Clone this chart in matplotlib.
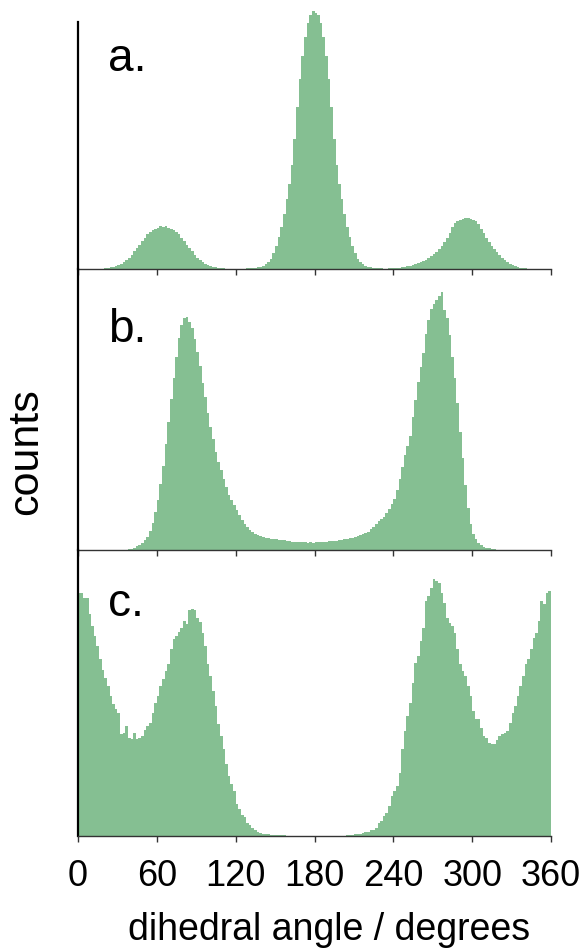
import numpy as np
import matplotlib
matplotlib.use('Agg')
import matplotlib.pyplot as plt

plt.rcParams['font.family'] = ['Liberation Sans', 'DejaVu Sans']

# histogram of dihedral angles, 2 degree bins from 0 to 360 (counts)
bin_edges = np.arange(0, 362, 2)

counts_a = [
    0, 0, 0, 0, 0, 0, 0, 0, 0, 0.5,
    0.8, 1.1, 1.6, 2.2, 3, 4, 5.5, 7.2, 9, 11.5,
    14.5, 18, 21, 24.5, 28, 31, 35, 37.5, 39, 40.5,
    41.5, 43, 42, 43, 41.5, 40.5, 39, 37.5, 35, 31,
    28, 24.5, 21, 18, 14.5, 11.5, 9, 7.2, 5.5, 4,
    3, 2.2, 1.6, 1.1, 0.8, 0.6, 0.5, 0.5, 0.4, 0.4,
    0.4, 0.4, 0.5, 0.5, 0.6, 0.7, 0.9, 1.2, 1.6, 2.3,
    3.3, 5, 7, 10.5, 16, 23, 32, 42, 55, 70,
    85, 104, 130, 162, 190, 213, 232, 246, 254, 258,
    256, 254, 246, 232, 213, 190, 162, 130, 104, 85,
    70, 55, 42, 32, 23, 16, 10.5, 7, 5, 3.3,
    2.3, 1.6, 1.2, 0.9, 0.7, 0.6, 0.5, 0.5, 0.6, 0.7,
    0.8, 1, 1.3, 1.7, 2.1, 2.7, 3.4, 4.2, 5, 6,
    7, 8.2, 9.5, 11, 13, 15, 17.5, 20.5, 23.5, 27,
    31, 36, 42, 46, 48, 49.5, 50.5, 51, 51, 50.5,
    49.5, 48, 45, 40, 36, 31, 27, 23.5, 20.5, 17,
    14, 11.5, 9, 7.2, 5.5, 4, 2.8, 2, 1.4, 1,
    0.6, 0.4, 0.2, 0, 0, 0, 0, 0, 0, 0,
]

counts_b = [
    0, 0, 0, 0, 0, 0, 0, 0, 0, 0,
    0, 0, 0, 0, 0, 0, 0, 0, 0.4, 0.8,
    1.5, 2.5, 3.8, 5.5, 7.5, 10, 13.5, 19, 27, 38,
    50, 66, 84, 106, 128, 151, 172, 193, 212, 225,
    232, 233, 228, 222, 211, 198, 184, 167, 153, 137,
    123, 111, 98, 88, 80, 71, 63, 55, 50, 45,
    40, 35, 30, 26, 23, 20.5, 18.5, 16.5, 15, 14,
    13.2, 12.5, 12, 11.5, 11.2, 11, 10.5, 10, 9.8, 9.5,
    9, 8.5, 8.5, 8, 8, 7.7, 7.8, 7.5, 7.7, 7.4,
    8, 7.6, 8, 8.4, 8.2, 8.8, 9, 9.4, 9.2, 10,
    10.4, 10.8, 11, 11.6, 12.3, 13, 14, 15, 16, 17,
    18.5, 21, 23.5, 26, 29, 31, 33, 37, 41, 46,
    51, 60, 71, 83, 95, 104, 114, 133, 150, 168,
    183, 197, 216, 230, 241, 246, 250, 254, 258, 240,
    232, 215, 193, 172, 147, 118, 92, 65, 42, 26,
    16, 11, 7.5, 5, 3.5, 2.5, 1.8, 1.2, 0.8, 0.5,
    0.3, 0.2, 0, 0, 0, 0, 0, 0, 0, 0,
    0, 0, 0, 0, 0, 0, 0, 0, 0, 0,
]

counts_c = [
    243, 243, 238, 238, 222, 210, 200, 190, 177, 166,
    158, 150, 140, 132, 127, 123, 102, 103, 110, 98,
    97, 103, 97, 98, 100, 106, 110, 113, 123, 133,
    140, 150, 157, 165, 172, 187, 197, 200, 204, 208,
    215, 212, 226, 227, 226, 218, 214, 203, 190, 172,
    160, 145, 130, 112, 100, 87, 72, 60, 52, 45,
    32, 27, 21, 19, 13, 11, 8, 6, 4, 3,
    2, 1.5, 1.2, 1, 0.7, 0.5, 0.4, 0.3, 0.2, 0,
    0, 0, 0, 0, 0, 0, 0, 0, 0, 0,
    0, 0, 0, 0, 0, 0, 0, 0, 0, 0,
    0, 0, 0.3, 0.7, 1, 1.7, 1.7, 2, 2.5, 3.3,
    3.5, 6, 6, 8, 13, 15, 20, 23, 30, 40,
    45, 50, 63, 87, 105, 120, 133, 153, 173, 180,
    195, 208, 235, 240, 248, 257, 255, 253, 243, 233,
    218, 213, 210, 203, 187, 172, 165, 160, 150, 140,
    125, 117, 117, 108, 100, 98, 93, 92, 92, 96,
    100, 102, 103, 105, 113, 123, 130, 140, 150, 160,
    172, 177, 187, 198, 203, 215, 235, 232, 243, 245,
]

panel_labels = ['a.', 'b.', 'c.']
tick_values = [0, 60, 120, 180, 240, 300, 360]

BAR_COLOR = '#85bf92'
W, H = 587, 953
X0, X1 = 78, 551

# (top, bottom) of each panel in pixels, measured from the top of the picture
panel_px = [(0, 270), (270, 551), (551, 836.5)]
label_y = [199, 209, 220]

fig = plt.figure(figsize=(W / 100, H / 100), dpi=100)

for i, (counts, (top, bottom)) in enumerate(zip([counts_a, counts_b, counts_c], panel_px)):
    height = bottom - top
    ax = fig.add_axes([X0 / W, 1 - bottom / H, (X1 - X0) / W, height / H])
    ax.patch.set_visible(False)
    ax.stairs(counts, bin_edges, fill=True, color=BAR_COLOR, linewidth=0)
    ax.set_xlim(0, 360)
    ax.set_ylim(0, height)

    ax.spines['top'].set_visible(False)
    ax.spines['right'].set_visible(False)
    ax.spines['left'].set_linewidth(1.6)
    ax.spines['left'].set_color('black')
    ax.spines['bottom'].set_linewidth(1.0)
    ax.spines['bottom'].set_color('#333333')
    if i == 0:
        ax.spines['left'].set_bounds(0, height - 23)

    ax.set_yticks([])
    ax.set_xticks(tick_values)
    ax.tick_params(axis='x', direction='out', length=4, width=1, color='#333333',
                   labelsize=26, pad=12)
    if i < 2:
        ax.tick_params(axis='x', labelbottom=False)

    ax.text(23, label_y[i], panel_labels[i], fontsize=33, ha='left', va='baseline')

fig.text(329 / W, 1 - 930 / H, 'dihedral angle / degrees', fontsize=27,
         ha='center', va='center')
fig.text(26 / W, 1 - 452 / H, 'counts', fontsize=31, rotation=90,
         ha='center', va='center')

fig.savefig('out.png', dpi=100)
